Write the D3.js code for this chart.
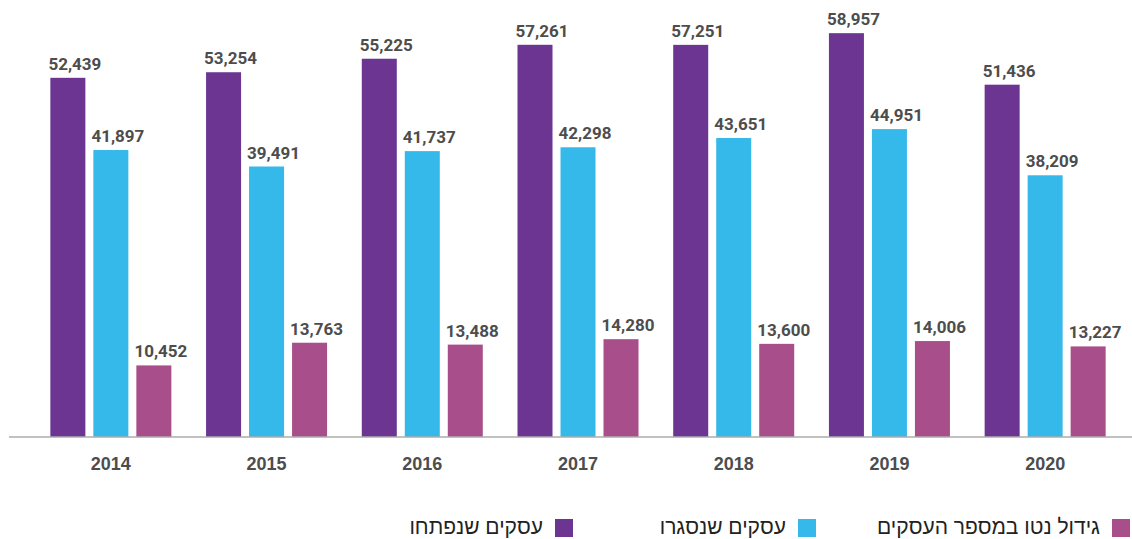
<!DOCTYPE html>
<html>
<head>
<meta charset="utf-8">
<script src="https://cdn.jsdelivr.net/npm/d3@7"></script>
<style>
  body { margin: 0; background: #fff; }
  svg { display: block; font-family: Roboto, "Liberation Sans", sans-serif; }
  .val { font-size: 17px; font-weight: bold; fill: #4d4d4d; }
  .year text { font-size: 18px; font-weight: bold; fill: #4d4d4d; }
  .legend text { font-family: "Liberation Sans Narrow", "Liberation Sans", sans-serif; font-size: 21px; fill: #222; }
</style>
</head>
<body>
<script>
var years = ["2014", "2015", "2016", "2017", "2018", "2019", "2020"];
var openedBiz = [52439, 53254, 55225, 57261, 57251, 58957, 51436];
var closedBiz = [41897, 39491, 41737, 42298, 43651, 44951, 38209];
var netGrowth = [10452, 13763, 13488, 14280, 13600, 14006, 13227];

var seriesNames = ["עסקים שנפתחו", "עסקים שנסגרו", "גידול נטו במספר העסקים"];
var colors = ["#6b3591", "#35b9ea", "#a84e8a"];

var width = 1132, height = 539;
var baseline = 437;

var svg = d3.select("body").append("svg")
    .attr("width", width)
    .attr("height", height);

var x0 = d3.scaleBand()
    .domain(years)
    .range([33, 1123]);

var bw = x0.bandwidth();
var x1 = d3.scaleBand()
    .domain([0, 1, 2])
    .range([(bw - 121) / 2, (bw + 121) / 2])
    .paddingInner(0.186);

var y = d3.scaleLinear()
    .domain([0, 63800])
    .range([baseline, 0]);

var rows = years.map(function(yr, i) {
  return { year: yr, values: [openedBiz[i], closedBiz[i], netGrowth[i]] };
});

var fmt = d3.format(",");

var group = svg.selectAll("g.grp")
    .data(rows)
  .enter().append("g")
    .attr("class", "grp")
    .attr("transform", function(d) { return "translate(" + x0(d.year) + ",0)"; });

group.selectAll("rect")
    .data(function(d) { return d.values; })
  .enter().append("rect")
    .attr("x", function(d, i) { return x1(i); })
    .attr("y", function(d) { return y(d); })
    .attr("width", x1.bandwidth())
    .attr("height", function(d) { return baseline - y(d); })
    .attr("fill", function(d, i) { return colors[i]; });

group.selectAll("text.val")
    .data(function(d) { return d.values; })
  .enter().append("text")
    .attr("class", "val")
    .attr("text-anchor", "middle")
    .attr("x", function(d, i) { return x1(i) + x1.bandwidth() / 2 + 7; })
    .attr("y", function(d) { return y(d) - 8; })
    .text(function(d) { return fmt(d); });

// baseline
svg.append("line")
    .attr("x1", 9).attr("x2", width)
    .attr("y1", baseline).attr("y2", baseline)
    .attr("stroke", "#acacac")
    .attr("stroke-width", 1.5);

var xAxis = d3.axisBottom(x0).tickSize(0).tickPadding(20);
svg.append("g")
    .attr("class", "year")
    .attr("transform", "translate(0," + baseline + ")")
    .call(xAxis)
    .call(function(g) { g.select(".domain").remove(); })
    .selectAll("text")
    .attr("font-family", null)
    .attr("font-size", null);

// legend, right to left in the picture
var legendX = [555, 798, 1112];
var legend = svg.append("g")
    .attr("class", "legend")
    .selectAll("g")
    .data(seriesNames)
  .enter().append("g")
    .attr("transform", function(d, i) { return "translate(" + legendX[i] + ",519)"; });

legend.append("rect")
    .attr("width", 18)
    .attr("height", 18)
    .attr("fill", function(d, i) { return colors[i]; });

legend.append("text")
    .attr("x", -12)
    .attr("y", 15)
    .attr("text-anchor", "end")
    .text(function(d) { return d; });
</script>
</body>
</html>
